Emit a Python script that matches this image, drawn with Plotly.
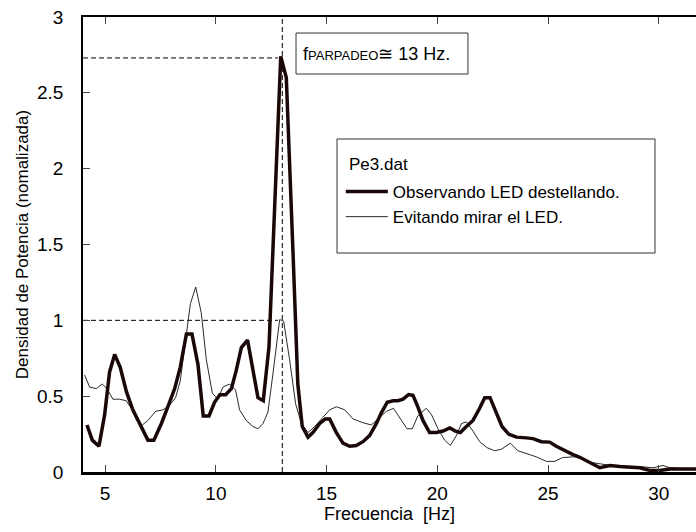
import plotly.graph_objects as go

# ---- data ----
f_obs = [4.18, 4.42, 4.72, 4.98, 5.2, 5.43, 5.68, 5.96, 6.25, 6.63, 6.93, 7.2, 7.54, 7.83, 8.14, 8.39,
         8.67, 8.92, 9.19, 9.43, 9.69, 9.94, 10.18, 10.44, 10.7, 10.92, 11.15, 11.43, 11.67, 11.9, 12.14,
         12.4, 12.93, 13.18, 13.48, 13.7, 13.9, 14.16, 14.38, 14.69, 14.94, 15.14, 15.44, 15.74, 16.04,
         16.34, 16.64, 16.94, 17.25, 17.47, 17.74, 18.0, 18.22, 18.45, 18.7, 18.9, 19.12, 19.35, 19.65,
         19.96, 20.26, 20.56, 20.82, 21.04, 21.31, 21.61, 21.91, 22.14, 22.38, 22.62, 22.92, 23.22,
         23.57, 24.02, 24.32, 24.7, 25.07, 25.37, 25.75, 26.13, 26.43, 26.88, 27.34, 27.79, 28.24,
         29.14, 29.6, 30.05, 30.5, 31.7]
p_obs = [0.31, 0.21, 0.17, 0.38, 0.66, 0.775, 0.69, 0.53, 0.41, 0.30, 0.21, 0.21, 0.32, 0.43, 0.55, 0.69,
         0.91, 0.91, 0.71, 0.37, 0.37, 0.46, 0.51, 0.51, 0.55, 0.67, 0.82, 0.87, 0.67, 0.49, 0.47,
         0.83, 2.74, 2.6, 1.46, 0.58, 0.30, 0.23, 0.26, 0.32, 0.35, 0.35, 0.26, 0.19, 0.17,
         0.175, 0.20, 0.24, 0.32, 0.39, 0.46, 0.47, 0.47, 0.48, 0.51, 0.505, 0.43, 0.34, 0.26,
         0.26, 0.27, 0.29, 0.27, 0.26, 0.30, 0.34, 0.42, 0.49, 0.49, 0.40, 0.30, 0.25,
         0.23, 0.225, 0.22, 0.20, 0.197, 0.17, 0.14, 0.115, 0.097, 0.062, 0.028, 0.043, 0.036,
         0.028, 0.01, 0.01, 0.02, 0.02]

f_evi = [4.07, 4.3, 4.6, 4.87, 5.08, 5.35, 5.65, 5.95, 6.18, 6.43, 6.68, 6.93, 7.28, 7.61, 7.91, 8.18,
         8.39, 8.63, 8.85, 9.09, 9.34, 9.57, 9.84, 10.09, 10.32, 10.62, 10.89, 11.07, 11.37, 11.67, 11.9,
         12.13, 12.35, 12.58, 12.88, 13.06, 13.33, 13.6, 13.86, 14.16, 14.46, 14.83, 15.14, 15.44, 15.82,
         16.19, 16.64, 17.02, 17.32, 17.7, 18.02, 18.29, 18.63, 18.87, 19.12, 19.5, 19.73, 20.03, 20.33,
         20.59, 20.86, 21.09, 21.31, 21.61, 21.91, 22.25, 22.59, 22.89, 23.3, 23.64, 24.09, 24.47,
         24.92, 25.3, 25.65, 26.15, 26.5, 26.85, 27.34, 27.79, 28.54, 29.14, 29.74, 30.19, 30.49, 31.7]
p_evi = [0.64, 0.56, 0.55, 0.58, 0.55, 0.48, 0.48, 0.47, 0.42, 0.34, 0.31, 0.34, 0.40, 0.41, 0.44, 0.49,
         0.60, 0.85, 1.11, 1.22, 1.05, 0.74, 0.52, 0.48, 0.56, 0.58, 0.54, 0.41, 0.34, 0.30, 0.285,
         0.32, 0.395, 0.65, 1.005, 0.995, 0.74, 0.45, 0.32, 0.26, 0.30, 0.36, 0.41, 0.43, 0.41,
         0.35, 0.325, 0.31, 0.35, 0.40, 0.42, 0.36, 0.285, 0.285, 0.37, 0.42, 0.38, 0.285, 0.21,
         0.175, 0.24, 0.32, 0.33, 0.27, 0.20, 0.16, 0.14, 0.15, 0.19, 0.14, 0.12, 0.10,
         0.07, 0.07, 0.095, 0.10, 0.098, 0.065, 0.054, 0.043, 0.028, 0.036, 0.028, 0.043, 0.028, 0.02]

x_ticks = [5, 10, 15, 20, 25, 30]
y_ticks = [0, 0.5, 1, 1.5, 2, 2.5, 3]
y_ticklabels = ["0", "0.5", "1", "1.5", "2", "2.5", "3"]

f_flicker = 13
p_peak = 2.73
p_ref = 1.0

FONT = "Liberation Sans, Arial, sans-serif"

fig = go.Figure()

# dashed guide lines (data coordinates)
fig.add_trace(go.Scatter(x=[4.0, f_flicker - 0.2], y=[p_peak, p_peak], mode="lines",
                         line=dict(color="black", width=1, dash="5px,3px"),
                         showlegend=False, hoverinfo="skip"))
fig.add_trace(go.Scatter(x=[4.0, f_flicker - 0.2], y=[p_ref, p_ref], mode="lines",
                         line=dict(color="black", width=1, dash="5px,3px"),
                         showlegend=False, hoverinfo="skip"))
fig.add_trace(go.Scatter(x=[f_flicker, f_flicker], y=[0, 3], mode="lines",
                         line=dict(color="black", width=1, dash="5px,3px"),
                         showlegend=False, hoverinfo="skip"))

fig.add_trace(go.Scatter(x=f_evi, y=p_evi, mode="lines", name="Evitando mirar el LED.",
                         line=dict(color="#2a2a2a", width=1)))
fig.add_trace(go.Scatter(x=f_obs, y=p_obs, mode="lines", name="Observando LED destellando.",
                         line=dict(color="#1a0808", width=3.5)))

# invisible trace to activate the top axis
fig.add_trace(go.Scatter(x=[10], y=[1], xaxis="x2", mode="markers", marker=dict(opacity=0),
                         showlegend=False, hoverinfo="skip"))

fig.update_layout(
    width=696, height=532,
    margin=dict(l=83, r=0, t=17, b=60),
    paper_bgcolor="white", plot_bgcolor="white",
    font=dict(family=FONT, size=18, color="black"),
    showlegend=True,
    legend=dict(x=0.4206, y=0.655, xanchor="left", yanchor="top",
                bgcolor="rgba(0,0,0,0)", borderwidth=0, itemwidth=42,
                font=dict(size=17), traceorder="reversed",
                tracegroupgap=0),
    xaxis=dict(range=[4.0, 31.68], tickvals=x_ticks, ticks="inside", ticklen=7, tickwidth=1,
               showline=True, linewidth=3, linecolor="black", showgrid=False, zeroline=False,
               tickfont=dict(size=19), ticklabelstandoff=2,
               title=dict(text="Frecuencia  [Hz]", font=dict(size=18), standoff=0)),
    xaxis2=dict(range=[4.0, 31.68], overlaying="x", side="top", tickvals=x_ticks, ticks="inside",
                ticklen=7, tickwidth=1, showticklabels=False, showline=True, linewidth=1.5,
                linecolor="black", showgrid=False, zeroline=False),
    yaxis=dict(range=[0, 3], tickvals=y_ticks, ticktext=y_ticklabels, ticks="inside", ticklen=7,
               tickwidth=1, showline=True, linewidth=1.5, linecolor="black", showgrid=False,
               zeroline=False, tickfont=dict(size=19), ticklabelstandoff=14,
               title=dict(text="Densidad de Potencia (nomalizada)", font=dict(size=17), standoff=4)),
    shapes=[
        dict(type="rect", xref="paper", yref="paper", x0=0.3475, x1=0.628, y0=0.8747, y1=0.9648,
             line=dict(color="#333", width=1), fillcolor="white", layer="above"),
        dict(type="rect", xref="paper", yref="paper", x0=0.4144, x1=0.9331, y0=0.4813, y1=0.7319,
             line=dict(color="#333", width=1), fillcolor="rgba(0,0,0,0)", layer="above"),
    ],
    annotations=[
        dict(xref="paper", yref="paper", x=0.479, y=0.919, xanchor="center", yanchor="middle",
             showarrow=False,
             text="f<span style='font-size:13px'>PARPADEO</span>≅ 13 Hz.",
             font=dict(size=18)),
        dict(xref="paper", yref="paper", x=0.4307, y=0.675, xanchor="left", yanchor="middle",
             showarrow=False, text="Pe3.dat", font=dict(size=17)),
    ],
)

fig.write_html("out.html")
